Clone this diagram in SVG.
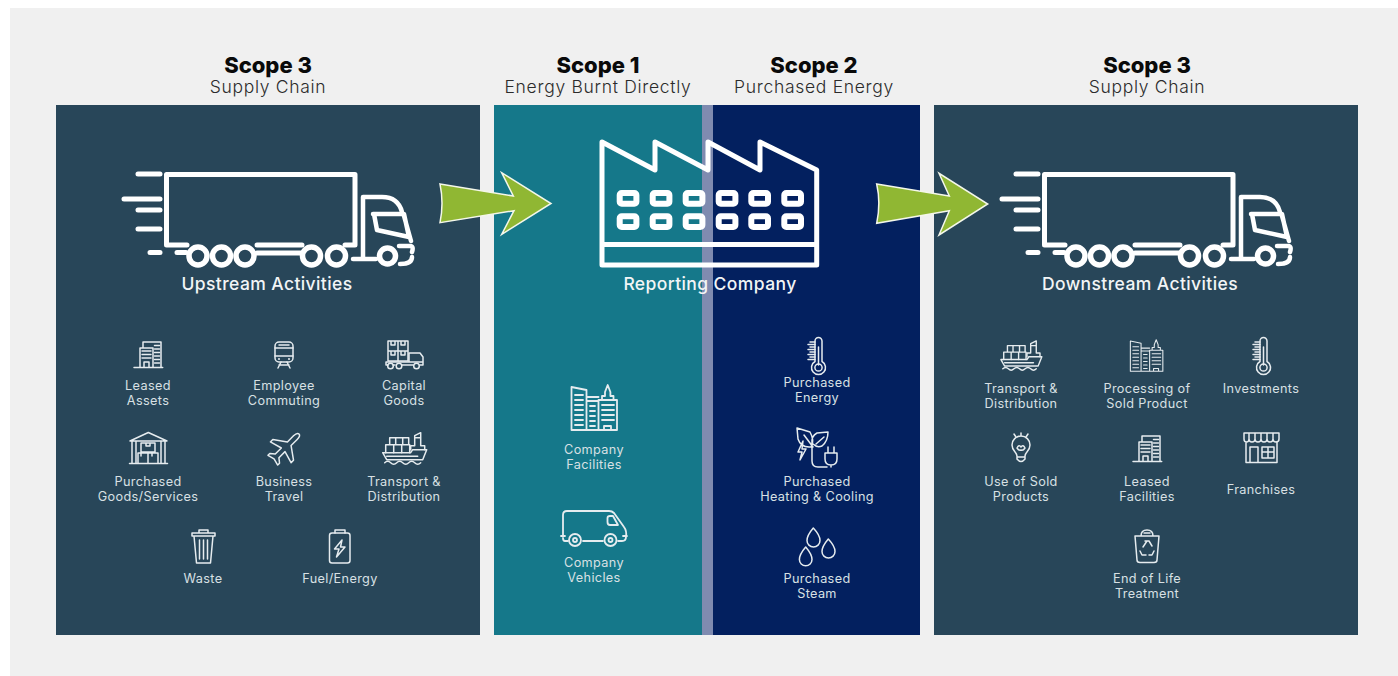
<svg xmlns="http://www.w3.org/2000/svg" xmlns:xlink="http://www.w3.org/1999/xlink" width="1398" height="676" viewBox="0 0 1398 676">
<style>
text{font-family:Inter,"Liberation Sans",sans-serif;text-anchor:middle}
.h{font-size:22px;font-weight:800;fill:#0a0a0a}
.s{font-size:17.500px;font-weight:300;fill:#2b2b2b;letter-spacing:.7px}
.t{font-size:17.500px;font-weight:500;fill:#f2f5f6;letter-spacing:.4px}
.l{font-size:12.700px;font-weight:400;fill:#d8e0e4;letter-spacing:.35px}
.ic{fill:none;stroke:#e6ecef;stroke-width:1.500;stroke-linecap:round;stroke-linejoin:round}
.ic *{vector-effect:non-scaling-stroke}
.ic .f{fill:#e6ecef;stroke:none}
.ic .d{stroke-width:1;stroke-dasharray:1.400 1.300;stroke-linecap:butt}
.w{fill:none;stroke:#fff;stroke-width:5;stroke-linecap:round;stroke-linejoin:round}
.a{fill:#90b733;stroke:#f4f7ea;stroke-width:1.500;stroke-linejoin:miter}
</style>
<defs>
<g id="truck" class="w">
<path d="M187 245H166.500V174.500H355V245H345"/>
<path d="M138 174H160M124 199H160M138 210H160M138 229H160M150 252.500H160M177 252.500H186M257 245H302M257 253H302"/>
<g stroke-width="5.500"><circle cx="198" cy="256" r="9"/><circle cx="221.500" cy="256" r="9"/><circle cx="245" cy="256" r="9"/>
<circle cx="311.500" cy="256" r="9"/><circle cx="336.500" cy="256" r="9"/><circle cx="387.500" cy="256" r="8"/></g>
<path stroke-width="4.500" d="M353 259H376M363 258V197H382Q398 197 402 212M373 214H404L409 237L377 230L374 214M404 216L411 241M399 246H410Q414 246 412 252M400 264Q412 264 412 257"/>
</g>
<g id="bldgS">
<path d="M0 26.500H28.700M9 6.500V1H27V26.500M6 26.500V7H19V26.500M10 26.500V21H15V26.500"/>
<path class="d" d="M8 10H17M8 13.500H17M8 17H17M20.500 4.500H25.500M20.500 8H25.500M20.500 11.500H25.500M20.500 15H25.500M20.500 18.500H25.500M20.500 22H25.500"/>
</g>
<g id="ship">
<path d="M1 21H29L31 18H45L41 28H5Z"/>
<path d="M3 31q3-3 6 0t6 0t6 0t6 0t6 0t6 0"/>
<path d="M4 21V13H28V21M8 13V6H27V13M12 13V21M20 13V21M14 6V13M21 6V13M5 24.500H36"/>
<path d="M29 18V14H33V4L39 1V14H43V18M33 6H39"/>
</g>
<g id="thermo">
<path d="M8 24.500V4a3.500 3.500 0 0 1 7 0V24.500a7 7 0 1 1-7 0Z"/>
<circle class="f" cx="11.500" cy="30.500" r="3.600"/>
<path d="M11.500 28V10M3 5H8M1 7.500H8M3 10H8M1 12.500H8M3 15H8M1 17.500H8M3 20H8M1 22.500H8"/>
</g>
<g id="bigb">
<path d="M0.500 46V3L15.500 6V46M15.500 13H27.500M15.500 17H27.500M27.500 46V16H46V46ZM31 16V12H34V8L36.700 1L39.400 8V12H42.500V16M33 46V42H40V46M0.500 46H27"/>
<path d="M4 11H12M4 16H12M4 21H12M4 26H12M4 31H12M4 36H12M4 41H12M19 22H24M19 27H24M19 32H24M19 37H24M19 42H24"/>
<path class="d" d="M31 21H43M31 26H43M31 31H43M31 36H43"/>
</g>
</defs>
<rect width="1398" height="676" fill="#ffffff"/>
<rect x="10" y="8" width="1388" height="668" fill="#f0f0f0"/>
<g id="panels">
<rect x="56" y="105" width="424" height="530" fill="#284659"/>
<rect x="494" y="105" width="208" height="530" fill="#15788a"/>
<rect x="702" y="105" width="11" height="530" fill="#7f8bb0"/>
<rect x="713" y="105" width="207" height="530" fill="#03205f"/>
<rect x="934" y="105" width="424" height="530" fill="#284659"/>
</g>
<g id="headers">
<text class="h" x="268" y="73">Scope 3</text><text class="s" x="268" y="93">Supply Chain</text>
<text class="h" x="598" y="73">Scope 1</text><text class="s" x="598" y="93">Energy Burnt Directly</text>
<text class="h" x="814" y="73">Scope 2</text><text class="s" x="814" y="93">Purchased Energy</text>
<text class="h" x="1147" y="73">Scope 3</text><text class="s" x="1147" y="93">Supply Chain</text>
</g>
<g id="upstream">
<use href="#truck"/>
<text class="t" x="267" y="290">Upstream Activities</text>
</g>
<g id="company">
<g class="w">
<path d="M602 265V142L655 170V142L708 170V142L760 170V142L816.700 170V265ZM602 244.500H816.700"/>
<g stroke-width="6">
<rect x="619.700" y="193" width="16.700" height="10.700" rx="2"/><rect x="652.700" y="193" width="16.700" height="10.700" rx="2"/><rect x="685.700" y="193" width="16.700" height="10.700" rx="2"/><rect x="718.700" y="193" width="16.700" height="10.700" rx="2"/><rect x="751.300" y="193" width="16.700" height="10.700" rx="2"/><rect x="784.300" y="193" width="16.700" height="10.700" rx="2"/>
<rect x="619.700" y="216.300" width="16.700" height="10.700" rx="2"/><rect x="652.700" y="216.300" width="16.700" height="10.700" rx="2"/><rect x="685.700" y="216.300" width="16.700" height="10.700" rx="2"/><rect x="718.700" y="216.300" width="16.700" height="10.700" rx="2"/><rect x="751.300" y="216.300" width="16.700" height="10.700" rx="2"/><rect x="784.300" y="216.300" width="16.700" height="10.700" rx="2"/>
</g>
</g>
<text class="t" x="710" y="290">Reporting Company</text>
</g>
<g id="downstream">
<use href="#truck" transform="translate(878 0)"/>
<text class="t" x="1140" y="290">Downstream Activities</text>
</g>
<g id="connectors">
<path class="a" d="M440 184L513.300 196L501.700 172.700L551 203.500L501.700 234.300L514 210.700L440 222.700Q444 203 440 184Z"/>
<path class="a" d="M876.700 184L949.300 196L939 173.300L987.700 204L939 235L949.300 210.700L876.700 223.300Q881 203 876.700 184Z"/>
</g>
<g id="leased-assets"><use class="ic" href="#bldgS" transform="translate(134 341)"/><text class="l" x="148" y="389.500">Leased</text><text class="l" x="148" y="404.500">Assets</text></g>
<g id="employee-commuting"><g class="ic"><rect x="275" y="342" width="18" height="20" rx="4"/><path d="M275 348H293M275 356H293M279 345H289M278 368L281 362M290 368L287 362M279 365H289"/><circle class="f" cx="279" cy="359" r="1"/><circle class="f" cx="289" cy="359" r="1"/></g><text class="l" x="284" y="389.500">Employee</text><text class="l" x="284" y="404.500">Commuting</text></g>
<g id="capital-goods"><g class="ic"><path d="M388 341H408V361H388ZM398 341V361M388 351H408M391 341V345H395V341M401 341V345H405V341M391 351V355H395V351M401 351V355H405V351"/><path d="M386 362H423V357L420 353H409V362M386 362V365H388M423 362V365H420M393 365H395M402 365H413"/><circle cx="390.500" cy="366" r="2.800"/><circle cx="399" cy="366" r="2.800"/><circle cx="416.500" cy="366" r="2.800"/></g><text class="l" x="404" y="389.500">Capital</text><text class="l" x="404" y="404.500">Goods</text></g>
<g id="purchased-goods"><g class="ic"><path d="M130 441L148.300 432.500L167 441ZM129.500 463.500H167.500M132 441V463M136 441V463M161 441V463M165 441V463"/><path d="M141 443H155V452H141ZM146 443V446H150V443M138 463V453H148V463M148 453H158V463M141 453V456M152 453V456"/></g><text class="l" x="148" y="485.500">Purchased</text><text class="l" x="148" y="500.500">Goods/Services</text></g>
<g id="business-travel"><g class="ic"><path transform="translate(285 448) rotate(45) scale(.86)" d="M0-23C2-23 3-20 3-17V-7L17 3V7L3 3V13L8 17V20L0 18L-8 20V17L-3 13V3L-17 7V3L-3-7V-17C-3-20-2-23 0-23Z"/></g><text class="l" x="284" y="485.500">Business</text><text class="l" x="284" y="500.500">Travel</text></g>
<g id="transport-up"><use class="ic" href="#ship" transform="translate(381.700 431.700)"/><text class="l" x="404" y="485.500">Transport &amp;</text><text class="l" x="404" y="500.500">Distribution</text></g>
<g id="waste"><g class="ic"><path d="M192 533H215V536H192ZM199 533V530H208V533M194 536L196.500 563H210.500L213 536M199.500 540V559M203.500 540V559M207.500 540V559"/></g><text class="l" x="203" y="582.500">Waste</text></g>
<g id="fuel"><g class="ic"><rect x="329.500" y="533" width="20.500" height="30" rx="2.500"/><path d="M335 533V530H345V533M342 540L334.500 549H339L336.500 557L345 547H340.500Z"/></g><text class="l" x="340" y="582.500">Fuel/Energy</text></g>
<g id="company-facilities"><use class="ic" href="#bigb" style="stroke-width:1.800" transform="translate(571 384)"/><text class="l" x="594" y="454">Company</text><text class="l" x="594" y="469">Facilities</text></g>
<g id="company-vehicles"><g class="ic" style="stroke-width:1.800"><path d="M563 536V515Q563 511 567 511H609Q612 511 614 513L624 527Q627 531 626 537Q626 541 622 541H618M603 541H583M568 541H565Q563 541 563 538M561 536H565M623 536H627"/><path d="M610 516H613L618 525H610Q607.500 525 607.500 522V518Q607.500 516 610 516Z"/><circle cx="575" cy="540" r="6"/><circle cx="575" cy="540" r="2"/><circle cx="610.500" cy="540" r="6"/><circle cx="610.500" cy="540" r="2"/></g><text class="l" x="594" y="566.500">Company</text><text class="l" x="594" y="581.500">Vehicles</text></g>
<g id="purchased-energy"><use class="ic" href="#thermo" transform="translate(807 337)"/><text class="l" x="817" y="387">Purchased</text><text class="l" x="817" y="402">Energy</text></g>
<g id="purchased-heating"><g class="ic"><path d="M797 428L810 432Q815 441 811 447Q801 448 798 439ZM804 435L813 447M812 446V461Q812 467 818 467H827M812 444Q811 436 817 433L828 432Q828 441 822 446Q817 448 813 444ZM816 444L824 437M803 441L798 452H802L800 460L806 449H802ZM825 453H837V459Q837 465 831 465Q825 465 825 459ZM828 453V447M834 453V447M831 465V467"/></g><text class="l" x="817" y="485.500">Purchased</text><text class="l" x="817" y="500.500">Heating &amp; Cooling</text></g>
<g id="purchased-steam"><g class="ic"><path d="M813.300 528C809 533 807 537 807 540.500A6.300 6.300 0 0 0 820 540.500C820 537 818 533 813.300 528Z"/><path d="M828.300 539C824 544 822 548 822 551.500A6.300 6.300 0 0 0 835 551.500C835 548 833 544 828.300 539Z"/><path d="M805.700 547C801.400 552 799.400 556 799.400 559.500A6.300 6.300 0 0 0 812 559.500C812 556 810 552 805.700 547Z"/></g><text class="l" x="817" y="582.500">Purchased</text><text class="l" x="817" y="597.500">Steam</text></g>
<g id="transport-down"><use class="ic" href="#ship" transform="translate(1000 340) scale(.93)"/><text class="l" x="1021" y="393">Transport &amp;</text><text class="l" x="1021" y="408">Distribution</text></g>
<g id="processing"><use class="ic" href="#bigb" transform="translate(1130 339) scale(.714 .7)"/><text class="l" x="1147" y="393">Processing of</text><text class="l" x="1147" y="408">Sold Product</text></g>
<g id="investments"><use class="ic" href="#thermo" transform="translate(1252 337)"/><text class="l" x="1261" y="392.500">Investments</text></g>
<g id="use-sold"><g class="ic"><path d="M1017 456C1017 452 1012 451 1012 445A9 9 0 0 1 1030 445C1030 451 1025 452 1025 456V459Q1021 464 1017 459ZM1017 457H1025M1017 448Q1019 444 1021 447Q1023 444 1025 448Q1023 451 1021 450Q1019 451 1017 448ZM1021 433V436M1014 434L1016 437M1028 434L1026 437"/></g><text class="l" x="1021" y="485.500">Use of Sold</text><text class="l" x="1021" y="500.500">Products</text></g>
<g id="leased-facilities"><use class="ic" href="#bldgS" transform="translate(1133 435)"/><text class="l" x="1147" y="485.500">Leased</text><text class="l" x="1147" y="500.500">Facilities</text></g>
<g id="franchises"><g class="ic"><path d="M1244 433H1279V439Q1279 442 1276 442T1273 439Q1273 442 1270 442T1267 439Q1267 442 1264 442T1261 439Q1261 442 1258 442T1255 439Q1255 442 1252 442T1249 439Q1249 442 1246.500 442T1244 439ZM1246 442V462.500H1277V442M1249 433V439M1255 433V439M1261 433V439M1267 433V439M1273 433V439M1250 462V447H1258V462M1262 447H1274V458H1262ZM1268 447V458M1262 452H1274"/></g><text class="l" x="1261" y="493.500">Franchises</text></g>
<g id="end-of-life"><g class="ic"><path d="M1135 536H1159L1157 560Q1157 562.500 1154 562.500H1140Q1137 562.500 1137 560ZM1141 536Q1141 530 1147 530Q1153 530 1153 536M1144 533H1150M1147 541L1143 547M1145 541H1149L1152 546M1140 551L1142 555H1146M1154 551L1152 555H1149"/></g><text class="l" x="1147" y="582.500">End of Life</text><text class="l" x="1147" y="597.500">Treatment</text></g>
</svg>
